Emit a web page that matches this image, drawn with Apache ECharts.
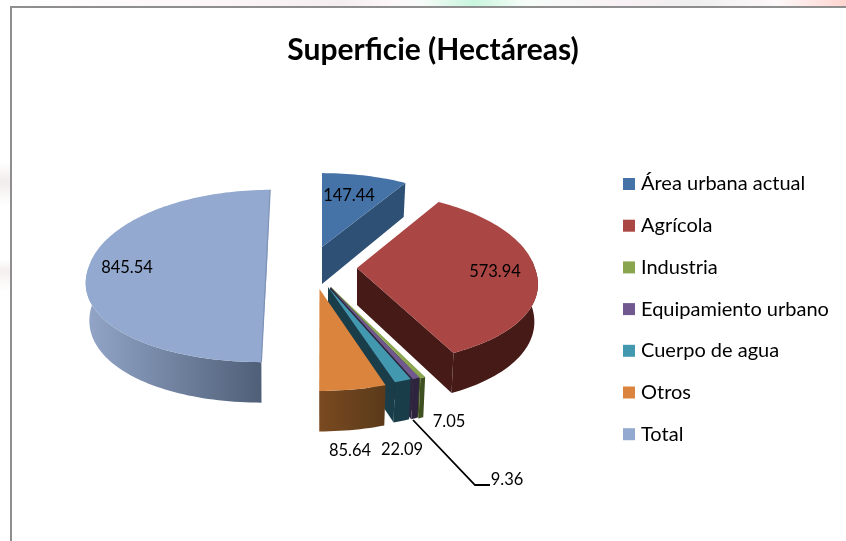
<!DOCTYPE html>
<html><head><meta charset="utf-8">
<style>html,body{margin:0;padding:0;background:#fff}#c{width:846px;height:541px}</style>
<script src="https://cdn.jsdelivr.net/npm/echarts@6/dist/echarts.min.js"></script>
</head><body><div id="c"></div>
<script>
const categories = ['Área urbana actual','Agrícola','Industria','Equipamiento urbano','Cuerpo de agua','Otros','Total'];
const superficie = [147.44,573.94,7.05,9.36,22.09,85.64,845.54];
const valueLabels = ['147.44','573.94','7.05','9.36','22.09','85.64','845.54'];

// styling / layout (not data)
const topColors = ['#4573a7','#aa4643','#89a54e','#71588f','#4198af','#db843d','#93a9cf'];
const radialColors = ['#2f5075','#451a17','#3f5020','#2e2440','#1a3d4a','#1a3d4a','#4f5f78'];
const wallFrom = ['#2f5075','#451a17','#3f5020','#2e2440','#1a3d4a','#7a4a20','#93a6c8'];
const wallTo = ['#2f5075','#451a17','#3f5020','#2e2440','#1a3d4a','#5a3a1a','#4f5f78'];
const apexX = [322,357,331,330,328,319.5,267];
const apexY = [247,268,287,287,287,289,266];
const yScale = [0.97,1,1.06,1.05,1.05,1.06,1];
const labelX = [349,495,449,507,402,350,127];
const labelY = [196,272,422,480,450,451,268];
const A = 177.8, B = 85, KX_BACK = 0.13, KX_FRONT = 0.17, KY = 0.116, START = 0, VX = 322, G = 0.5;

const total = superficie.reduce((s,v)=>s+v,0);

function project(i, deg, rad){
  const t = deg*Math.PI/180, u = Math.sin(t)*rad, v = -Math.cos(t)*rad;
  const sx = 1/(1-(v<0?KX_BACK:KX_FRONT)*v), sy = 1/(1-KY*v);
  return [apexX[i] + A*u*sx + (apexX[i]-VX)*(sx-1)*G, apexY[i] + B*v*sy*yScale[i], v];
}
function drop(i, p){
  const d = 37 + 3.5*p[2];
  return [apexX[i] + (p[0]-apexX[i])*0.98, p[1] + d];
}
function renderSlice(i){
  return function(params, api){
    const value = api.value(0);
    let before = 0; for (let j=0;j<i;j++) before += superficie[j];
    const a0 = START + before/total*360, a1 = a0 + value/total*360;
    const arc = [], n = Math.max(4, Math.ceil((a1-a0)/1.5));
    for (let k=0;k<=n;k++) arc.push(project(i, a0+(a1-a0)*k/n, 1));
    const apex = project(i, 0, 0), apexBottom = drop(i, apex);
    const children = [];
    const wall = (p)=>({type:'polygon',shape:{points:[[apex[0],apex[1]],[p[0],p[1]],drop(i,p),apexBottom]},
      style:{fill:radialColors[i]}});
    if (i !== 6) children.push(wall(arc[arc.length-1]));
    const facing = (i===0) ? [] : arc.filter(p=>p[2] > -0.1);
    if (facing.length){
      const pts = facing.map(p=>[p[0],p[1]]).concat(facing.slice().reverse().map(p=>drop(i,p)));
      const xs = pts.map(p=>p[0]);
      children.push({type:'polygon',shape:{points:pts},style:{fill:new echarts.graphic.LinearGradient(
        Math.min(...xs),0,Math.max(...xs),0,[{offset:0,color:wallFrom[i]},{offset:1,color:wallTo[i]}],true)}});
    }
    children.push({type:'polygon',shape:{points:[[apex[0],apex[1]]].concat(arc.map(p=>[p[0],p[1]]))},
      style:{fill:topColors[i]}});
    if (i === 6){
      const a = arc[0], z = arc[arc.length-1];
      children.push({type:'polyline',shape:{points:[[a[0],a[1]],[z[0],z[1]]]},
        style:{stroke:'#7f93b8',lineWidth:1.2,fill:null}});
    }
    if (i === 3){
      children.push({type:'polyline',shape:{points:[[413,420],[475,485],[490,485]]},
        style:{stroke:'#000',lineWidth:1.8,fill:null}});
    }
    return {type:'group',children};
  };
}

const chart = echarts.init(document.getElementById('c'),null,{renderer:'canvas'});
const series = categories.map((name,i)=>({
  type:'custom', name, coordinateSystem:'none', silent:true, animation:false,
  z: 2, itemStyle:{color:topColors[i]},
  data:[[superficie[i]]], renderItem: renderSlice(i)
}));
series.push({
  type:'custom', name:'labels', coordinateSystem:'none', silent:true, animation:false, z:5,
  data: valueLabels.map((t)=>[t]),
  renderItem:(params)=>({type:'text',style:{text:valueLabels[params.dataIndex],
    x:labelX[params.dataIndex],y:labelY[params.dataIndex],align:'center',verticalAlign:'middle',
    fill:'#000',font:'16.5px Lato'}})
});
const topStrip = new echarts.graphic.LinearGradient(0,0,1,0,[
  {offset:0,color:'#ffffff'},{offset:0.3,color:'#fbf4f6'},{offset:0.4,color:'#f5eef0'},{offset:0.46,color:'#fdf6f9'},
  {offset:0.5,color:'#f6fbf8'},{offset:0.56,color:'#c8f5dd'},{offset:0.62,color:'#f6fdf9'},{offset:0.74,color:'#f8f0f4'},
  {offset:0.82,color:'#efefef'},{offset:0.92,color:'#fdf8f9'},{offset:1,color:'#ffd5d0'}]);
const leftStrip = new echarts.graphic.LinearGradient(0,0,0,1,[
  {offset:0,color:'#ffffff'},{offset:0.3,color:'#ffffff'},{offset:0.335,color:'#f2ecec'},{offset:0.38,color:'#ffffff'},
  {offset:0.48,color:'#ffffff'},{offset:0.5,color:'#f5efef'},{offset:0.54,color:'#ffffff'},{offset:1,color:'#ffffff'}]);
chart.setOption({
  backgroundColor:'#fff',
  animation:false,
  title:{text:'Superficie (Hectáreas)',left:428,top:30,textAlign:'center',
    textStyle:{fontFamily:'Lato',fontWeight:'bold',fontSize:30,color:'#000'}},
  legend:{data:categories,orient:'vertical',left:618,top:169,itemWidth:12,itemHeight:12,itemGap:21.7,
    icon:'rect',selectedMode:false,textStyle:{fontFamily:'Lato',fontSize:20,color:'#000',padding:[0,0,0,1]}},
  graphic:[
    {type:'rect',shape:{x:0,y:0,width:846,height:6},style:{fill:topStrip},z:0},
    {type:'rect',shape:{x:0,y:0,width:10,height:541},style:{fill:leftStrip},z:0},
    {type:'polyline',shape:{points:[[11,541],[11,7],[846,7]]},style:{stroke:'#8e8e8e',lineWidth:2,fill:null}}
  ],
  series
});
</script></body></html>
